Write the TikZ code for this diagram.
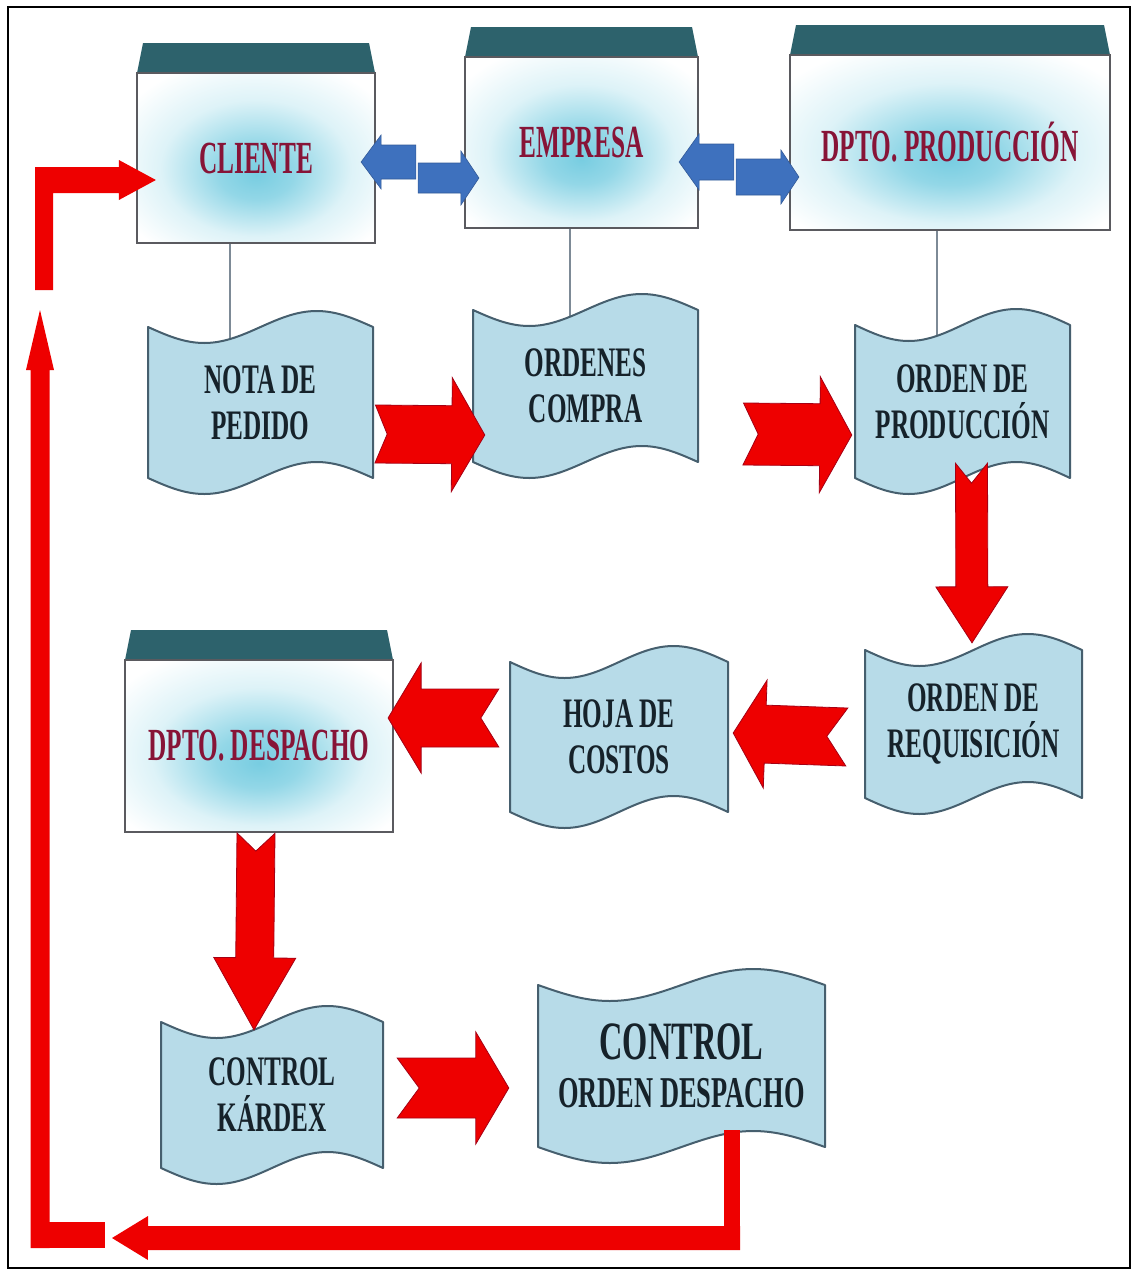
\documentclass[tikz,border=0pt]{standalone}
\usepackage{fontspec}
\usetikzlibrary{calc}
\newfontfamily\titlef{Liberation Serif}[FakeStretch=0.55]
\newfontfamily\docf{Liberation Serif}[FakeStretch=0.6]
\definecolor{barcol}{RGB}{45,98,108}
\definecolor{boxline}{RGB}{90,90,95}
\definecolor{glowc}{RGB}{120,205,225}
\definecolor{titlecol}{RGB}{135,20,55}
\definecolor{docfill}{RGB}{183,219,232}
\definecolor{docline}{RGB}{70,95,110}
\definecolor{doctext}{RGB}{22,34,42}
\definecolor{arrred}{RGB}{238,0,0}
\definecolor{arrredd}{RGB}{165,0,20}
\definecolor{arrblue}{RGB}{62,113,190}
\definecolor{linkcol}{RGB}{125,138,150}
\pgfdeclareradialshading{glow}{\pgfpoint{0bp}{-5bp}}{color(0bp)=(glowc); color(8bp)=(glowc!80!white); color(20bp)=(glowc!25!white); color(32bp)=(white); color(50bp)=(white)}
\pgfdeclarelayer{bg}
\pgfsetlayers{bg,main}
\tikzset{
 winbody/.style={draw=boxline, line width=2.2pt, shade, shading=glow, inner sep=0pt, font=\titlef\bfseries\fontsize{46}{50}\selectfont, text=titlecol},
 doctxt/.style={inner sep=0pt, align=center, text=doctext, font=\docf\bfseries\fontsize{42}{46}\selectfont},
 docshape/.style={fill=docfill, draw=docline, line width=2pt, line join=round},
 barshape/.style={fill=barcol},
 redarr/.style={fill=arrred, draw=arrredd, line width=0.8pt, line join=miter},
 bluearr/.style={fill=arrblue, draw=arrblue!80!black, line width=0.6pt},
 link/.style={draw=linkcol, line width=2.5pt},
}
\newcommand\winbox[6]{%
 \fill[barshape] ({#2+6},#3) -- ({#4-6},#3) -- (#4,{#3+30}) -- (#2,{#3+30}) -- cycle;
 \node[winbody, minimum width={#4-#2}, minimum height={#5-#3-30}] (#1) at ({(#2+#4)/2},{(#3+30+#5)/2}) {#6};
}
\newcommand\docnode[7][]{%
 \path[docshape] (#3,#4) sin ({#3+(#5-#3)/4},{#4+16}) cos ({(#3+#5)/2},#4) sin ({#3+3*(#5-#3)/4},{#4-16}) cos (#5,#4) -- (#5,#6) sin ({#3+3*(#5-#3)/4},{#6-16}) cos ({(#3+#5)/2},#6) sin ({#3+(#5-#3)/4},{#6+16}) cos (#3,#6) -- cycle;
 \node[doctxt, minimum width={#5-#3}, minimum height={#6-#4}, #1] (#2) at ({(#3+#5)/2},{(#4+#6)/2}) {#7};
}
\newcommand\fatarrow[7]{%
 \coordinate (faS) at (#2);
 \coordinate (faE) at (#3);
 \coordinate (faH) at ($(faE)!#6pt!(faS)$);
 \fill[#1] ($(faS)!#4pt!90:(faE)$) -- ($(faH)!#4pt!90:(faE)$) -- ($(faH)!#5pt!90:(faE)$) -- (faE) -- ($(faH)!#5pt!-90:(faE)$) -- ($(faH)!#4pt!-90:(faE)$) -- ($(faS)!#4pt!-90:(faE)$) -- ($(faS)!#7pt!(faE)$) -- cycle;
}
\begin{document}
\begin{tikzpicture}[x=1pt,y=-1pt]
\useasboundingbox (0,0) rectangle (1133,1274);
\draw[line width=2.5pt] (8,7) rectangle (1130,1268);

\winbox{cliente}{137}{43}{375}{243}{CLIENTE}
\winbox{empresa}{465}{27}{698}{228}{EMPRESA}
\winbox{dptoprod}{790}{25}{1110}{230}{DPTO. PRODUCCIÓN}
\winbox{despacho}{125}{630}{393}{832}{DPTO. DESPACHO}

\docnode{nota}{148}{327}{373}{478}{NOTA DE\\PEDIDO}
\docnode{ordenes}{473}{310}{698}{462}{ORDENES\\COMPRA}
\docnode{ordprod}{855}{325}{1070}{478}{ORDEN DE\\PRODUCCIÓN}
\docnode{requis}{865}{650}{1082}{798}{ORDEN DE\\REQUISICIÓN}
\docnode{hoja}{510}{662}{728}{812}{HOJA DE\\COSTOS}
\docnode{kardex}{161}{1022}{383}{1168}{CONTROL\\KÁRDEX}
\docnode{controlod}{538}{985}{825}{1147}{{\fontsize{54}{54}\selectfont CONTROL}\\[2pt]{\fontsize{44}{46}\selectfont ORDEN DESPACHO}}

% blue double arrows
\fatarrow{bluearr}{$(empresa.west)+(-48,19.5)$}{$(cliente.east)+(-15,4)$}{17}{27}{20}{0}
\fatarrow{bluearr}{$(cliente.east)+(42,20)$}{$(empresa.west)+(15,35.5)$}{15}{27}{18}{0}
\fatarrow{bluearr}{$(dptoprod.west)+(-55,19.5)$}{$(empresa.east)+(-20,19.5)$}{18}{28}{20}{0}
\fatarrow{bluearr}{$(empresa.east)+(37,34.5)$}{$(dptoprod.west)+(10,34.5)$}{18}{27}{18}{0}

% red flow arrows
\fatarrow{redarr}{$(nota.east)+(2,31.5)$}{$(ordenes.west)+(12,49)$}{29}{57}{33}{12}
\fatarrow{redarr}{$(ordenes.east)+(45,48)$}{$(ordprod.west)+(-3,33.5)$}{31}{58}{32}{15}
\fatarrow{redarr}{$(ordprod.south)+(9,-15)$}{$(requis.north)+(-1.5,-7)$}{16}{36}{56}{20}
\fatarrow{redarr}{$(requis.west)+(-18,13)$}{$(hoja.east)+(5,-4)$}{29}{54}{32}{20}
\fatarrow{redarr}{$(hoja.west)+(-11,-19)$}{$(despacho.east)+(-6,-28)$}{29}{55}{33}{18}
\fatarrow{redarr}{$(despacho.south)+(-3,0)$}{$(kardex.north)+(-18,8)$}{19}{41}{72}{18}
\fatarrow{redarr}{$(kardex.east)+(14,-7)$}{$(controlod.west)+(-29,22)$}{30}{56}{33}{22}

% return loop
\coordinate (rv) at ($(controlod.south)+(50.5,-17)$);
\coordinate (retTip) at (112,1238);
\coordinate (gapLow) at (40,310);
\coordinate (gapHigh) at (44,290);
\coordinate (cTip) at ($(cliente.west)+(20,22)$);
\fill[arrred] ($(rv)+(-8,0)$) rectangle ($(rv)+(8,120)$);
\fatarrow{arrred}{$(rv)+(8,108)$}{retTip}{12}{22}{36}{0}
\fill[arrred] (31,1222) rectangle (105,1248);
\fatarrow{arrred}{40,1248}{gapLow}{9.5}{14}{60}{0}
\fill[arrred] ($(gapHigh)+(-9,0)$) |- ($(cTip)+(-37,-13)$) -- ++(0,-7) -- (cTip) -- ++(-37,20) -- ++(0,-7) -| ($(gapHigh)+(9,0)$) -- cycle;

% thin links
\coordinate (l1) at ($(cliente.south)+(-26,0)$);
\coordinate (l2) at ($(empresa.south)+(-11.5,0)$);
\coordinate (l3) at ($(dptoprod.south)+(-13,0)$);
\begin{pgfonlayer}{bg}
\fill[white] (0,0) rectangle (1133,1274);
\draw[link] (l1) -- (l1 |- nota.center);
\draw[link] (l2) -- (l2 |- ordenes.center);
\draw[link] (l3) -- (l3 |- ordprod.center);
\end{pgfonlayer}
\end{tikzpicture}
\end{document}
